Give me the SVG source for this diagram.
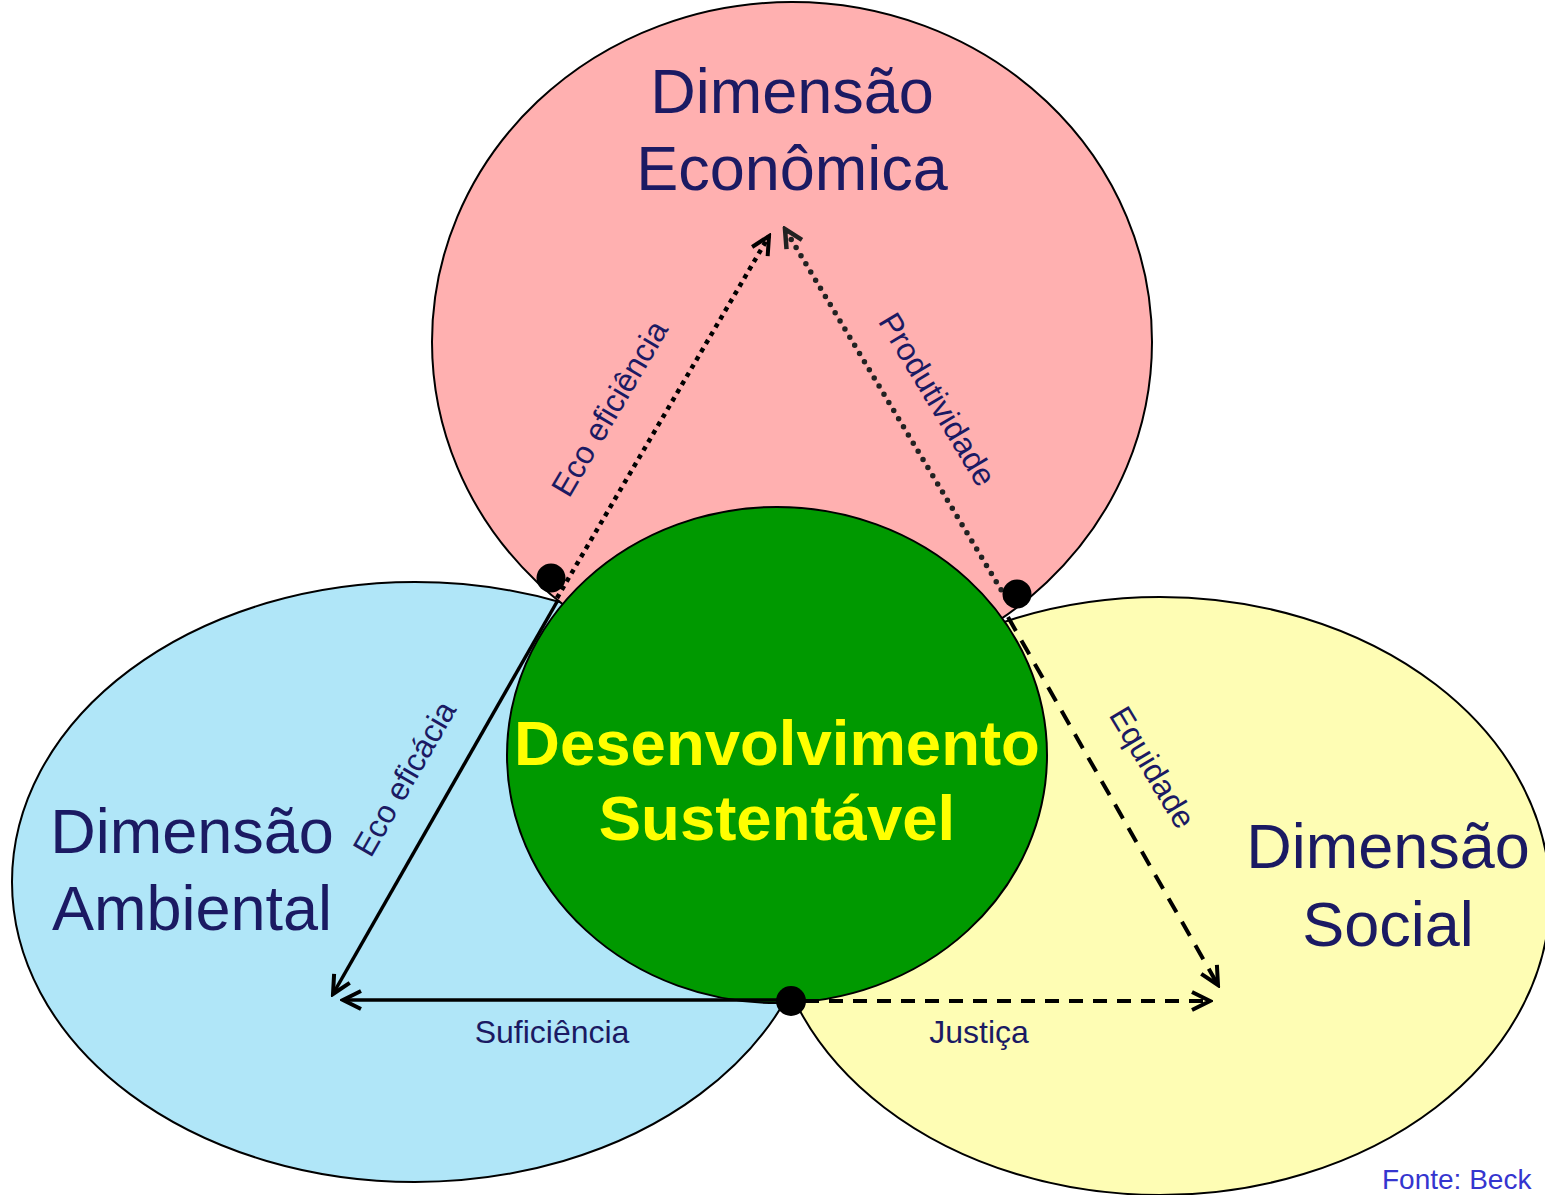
<svg xmlns="http://www.w3.org/2000/svg" width="1545" height="1195" viewBox="0 0 1545 1195">
<style>
.dim{font-family:"Liberation Sans",Arial,sans-serif;font-size:63px;fill:#1b1a63;text-anchor:middle}
.lbl{font-family:"Liberation Sans",Arial,sans-serif;font-size:32px;fill:#1b1a63;text-anchor:middle}
.ctr{font-family:"Liberation Sans",Arial,sans-serif;font-size:63.5px;font-weight:bold;fill:#ffff00;text-anchor:middle}
.ell{stroke:#000;stroke-width:2}
.conn{fill:none}
</style>
<defs>
<marker id="arr" viewBox="0 0 24 24" refX="21" refY="12" markerWidth="24" markerHeight="24" markerUnits="userSpaceOnUse" orient="auto">
<path d="M3,3 L21,12 L3,21" fill="none" stroke="#000" stroke-width="4"/>
</marker>
<marker id="arrg" viewBox="0 0 24 24" refX="21" refY="12" markerWidth="24" markerHeight="24" markerUnits="userSpaceOnUse" orient="auto">
<path d="M3,3 L21,12 L3,21" fill="none" stroke="#222" stroke-width="4.5"/>
</marker>
</defs>
<rect width="1545" height="1195" fill="#ffffff"/>
<g id="ambiental">
<ellipse class="ell" cx="415" cy="882" rx="403" ry="300" fill="#b0e6f8"/>
<text class="dim" x="192" y="853">Dimensão</text>
<text class="dim" x="192" y="930">Ambiental</text>
</g>
<g id="social">
<ellipse class="ell" cx="1160" cy="896" rx="390" ry="299" fill="#fefdb4"/>
<text class="dim" x="1388" y="868">Dimensão</text>
<text class="dim" x="1388" y="946">Social</text>
</g>
<g id="economica">
<ellipse class="ell" cx="792" cy="342" rx="360" ry="340" fill="#ffb0b0"/>
<text class="dim" x="792" y="113">Dimensão</text>
<text class="dim" x="792" y="190">Econômica</text>
</g>
<g id="desenvolvimento">
<ellipse class="ell" cx="777" cy="755" rx="270" ry="248" fill="#009900"/>
<text class="ctr" x="777" y="765">Desenvolvimento</text>
<text class="ctr" x="777" y="840">Sustentável</text>
</g>
<g id="connectors">
<line class="conn" x1="557" y1="598" x2="769" y2="236" style="stroke:#000;stroke-width:4.5;stroke-dasharray:4.5,5" marker-end="url(#arr)"/>
<line class="conn" x1="1006" y1="598" x2="785" y2="229" style="stroke:#222;stroke-width:5.5;stroke-linecap:round;stroke-dasharray:0,9.5" marker-end="url(#arrg)"/>
<line class="conn" x1="558" y1="600" x2="333" y2="994" style="stroke:#000;stroke-width:3.5" marker-end="url(#arr)"/>
<line class="conn" x1="785" y1="1000" x2="343" y2="1000" style="stroke:#000;stroke-width:3.5" marker-end="url(#arr)"/>
<line class="conn" x1="805" y1="1001" x2="1210" y2="1001" style="stroke:#000;stroke-width:4;stroke-dasharray:14,10" marker-end="url(#arr)"/>
<line class="conn" x1="1008" y1="617" x2="1218" y2="985" style="stroke:#000;stroke-width:4;stroke-dasharray:16,11" marker-end="url(#arr)"/>
<text class="lbl" transform="translate(619,414) rotate(-59.5)">Eco eficiência</text>
<text class="lbl" transform="translate(928,405) rotate(59)">Produtividade</text>
<text class="lbl" transform="translate(414,784) rotate(-60)">Eco eficácia</text>
<text class="lbl" transform="translate(1143,773) rotate(59)">Equidade</text>
<text class="lbl" x="552" y="1043">Suficiência</text>
<text class="lbl" x="979" y="1043">Justiça</text>
</g>
<g id="dots">
<circle cx="551" cy="578" r="14.5" fill="#000"/>
<circle cx="1017" cy="594" r="14.5" fill="#000"/>
<circle cx="791" cy="1001" r="15" fill="#000"/>
</g>
<text x="1382" y="1189" font-family="Liberation Sans, Arial, sans-serif" font-size="28" fill="#3535cf">Fonte: Beck</text>
</svg>
